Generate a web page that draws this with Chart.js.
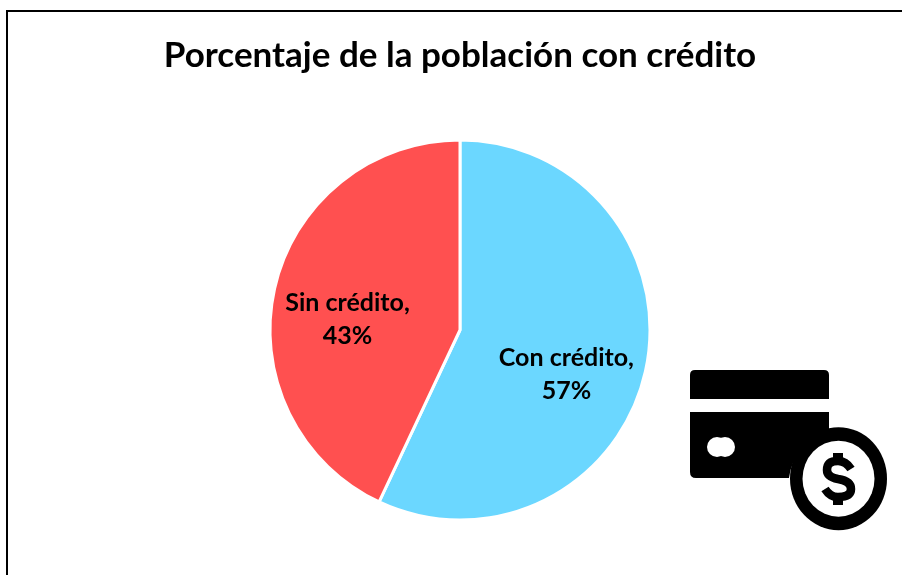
<!DOCTYPE html>
<html><head><meta charset="utf-8">
<style>html,body{margin:0;padding:0;background:#fff;overflow:hidden}
#wrap{position:absolute;left:0;top:0;width:902px;height:575px;overflow:hidden}
#frame{position:absolute;left:6px;top:10px;width:896px;height:565px;border-left:2px solid #000;border-top:2px solid #000;box-sizing:border-box}
canvas{position:absolute;left:18px;top:0}
svg{position:absolute;left:685px;top:365px}
</style></head><body>
<div id="wrap"><div id="frame"></div><canvas id="c" width="884" height="575"></canvas>
<svg width="210" height="170" viewBox="0 0 210 170">
<path fill-rule="evenodd" d="M5 34V10Q5 5 10 5H139Q144 5 144 10V34ZM5 47H144V69A50 50 0 0 0 104 113H11Q5 113 5 107Z"/>
<circle cx="32" cy="82" r="10" fill="#fff"/><circle cx="40" cy="82" r="10" fill="#fff"/>
<ellipse cx="153.5" cy="113.7" rx="48.5" ry="51.5"/><ellipse cx="153.5" cy="113.7" rx="36" ry="38" fill="#fff"/>
<path d="M166 104Q161 96 153 96Q142 96 142 105Q142 112 153 114Q166 116 166 124Q166 132 153 132Q145 132 140 124" fill="none" stroke="#000" stroke-width="8.5"/>
<rect x="148" y="88" width="10" height="10"/><rect x="148" y="130" width="10" height="10"/>
</svg></div>
<script src="https://cdn.jsdelivr.net/npm/chart.js@4"></script>
<script>
const categories=["Con crédito","Sin crédito"];
const values=[57,43];
const colors=["#6BD7FF","#FF5050"];
const inlineLabels={id:'inlineLabels',afterDatasetsDraw(ch){
 const g=ch.ctx,m=ch.getDatasetMeta(0);
 const off=[[0.56,0.233],[-0.592,-0.053]];
 g.save();g.fillStyle='#000';g.font='700 25px Lato, "Liberation Sans", sans-serif';g.textAlign='center';g.textBaseline='middle';
 m.data.forEach((a,i)=>{
  const x=a.x+a.outerRadius*off[i][0],y=a.y+a.outerRadius*off[i][1];
  g.fillText(categories[i]+',',x,y-16.5);g.fillText(values[i]+'%',x,y+16.5);
 });g.restore();}};
new Chart(document.getElementById('c'),{type:'pie',
data:{labels:categories,datasets:[{data:values,backgroundColor:colors,borderColor:'#fff',borderWidth:3}]},
options:{responsive:false,animation:false,
 layout:{padding:{top:3,bottom:53.5,left:0,right:0}},
 plugins:{legend:{display:false},tooltip:{enabled:false},
 title:{display:true,text:'Porcentaje de la población con crédito',color:'#000',font:{size:35,weight:'700',family:'Lato,"Liberation Sans",sans-serif'},padding:{top:31.5,bottom:62}}}},
plugins:[inlineLabels]});
</script></body></html>
